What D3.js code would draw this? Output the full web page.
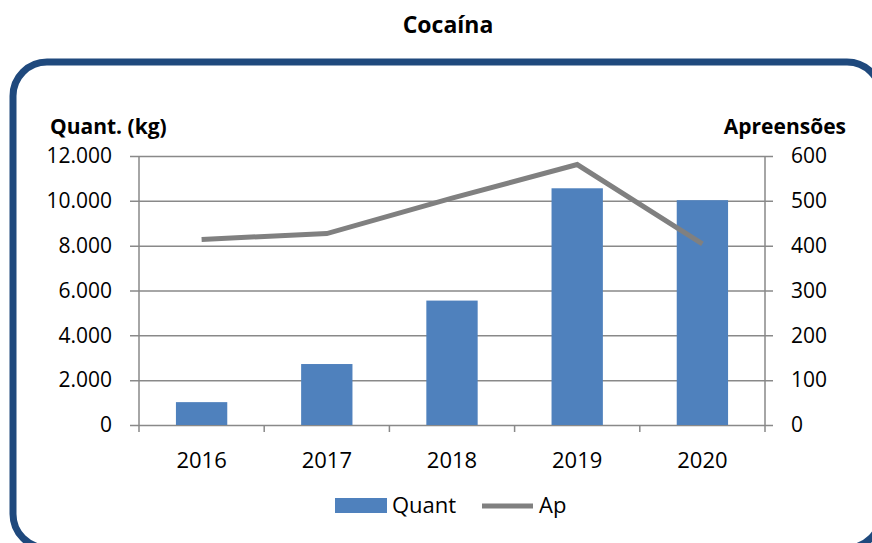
<!DOCTYPE html>
<html lang="pt">
<head>
<meta charset="UTF-8">
<title>Cocaína</title>
<script src="https://d3js.org/d3.v7.min.js"></script>
<style>
  body { margin: 0; background: #fff; }
  svg text { font-family: "Open Sans", sans-serif; fill: #000; }
</style>
</head>
<body>
<svg></svg>
<script>
  // dados
  const anos = ['2016', '2017', '2018', '2019', '2020']
  const quant = [1020, 2720, 5550, 10560, 10030]   // kg
  const apreensoes = [414, 427, 506, 581, 404]
  const ticksQuant = [0, 2000, 4000, 6000, 8000, 10000, 12000]
  const ticksAp = [0, 100, 200, 300, 400, 500, 600]

  const width = 872, height = 543
  const plotL = 139, plotR = 765, plotT = 156, plotB = 425

  const svg = d3.select('svg').attr('width', width).attr('height', height)

  const ptBR = d3.formatLocale({ decimal: ',', thousands: '.', grouping: [3], currency: ['', ''] })
  const fmt = ptBR.format(',')

  const x = d3.scaleBand().domain(anos).range([plotL, plotR]).paddingInner(0.59).paddingOuter(0.295)
  const yL = d3.scaleLinear().domain([0, 12000]).range([plotB, plotT])
  const yR = d3.scaleLinear().domain([0, 600]).range([plotB, plotT])

  // moldura
  svg.append('rect')
    .attr('x', 13).attr('y', 62)
    .attr('width', 868).attr('height', 486)
    .attr('rx', 34).attr('ry', 34)
    .attr('fill', 'none')
    .attr('stroke', '#1F497D')
    .attr('stroke-width', 7)

  svg.append('text')
    .attr('x', 448).attr('y', 33)
    .attr('text-anchor', 'middle')
    .style('font-size', '23px').style('font-weight', 'bold')
    .text('Cocaína')

  // grade + eixo esquerdo
  const gL = svg.append('g')
    .attr('transform', `translate(773,0)`)
    .call(d3.axisLeft(yL).tickValues(ticksQuant).tickFormat(fmt).tickSize(773 - 130).tickPadding(18))
  gL.select('.domain').remove()
  gL.selectAll('line').attr('stroke', '#898989').attr('stroke-width', 1.5)
  gL.selectAll('text').style('font-size', '21px').style('font-family', '"Open Sans", sans-serif')

  const gR = svg.append('g')
    .attr('transform', `translate(${plotR},0)`)
    .call(d3.axisRight(yR).tickValues(ticksAp).tickSize(0).tickPadding(26))
  gR.select('.domain').remove()
  gR.selectAll('text').style('font-size', '21px').style('font-family', '"Open Sans", sans-serif')

  const gB = svg.append('g')
    .attr('transform', `translate(0,${plotB})`)
    .call(d3.axisBottom(x).tickSize(0).tickPadding(27))
  gB.select('.domain').remove()
  gB.selectAll('text').style('font-size', '22px').style('font-family', '"Open Sans", sans-serif')

  // linhas verticais dos eixos e marcas das categorias
  const eixo = svg.append('g').attr('stroke', '#898989').attr('stroke-width', 1.5)
  eixo.append('line').attr('x1', plotL).attr('x2', plotL).attr('y1', plotT).attr('y2', plotB + 7)
  eixo.append('line').attr('x1', plotR).attr('x2', plotR).attr('y1', plotT).attr('y2', plotB + 7)
  eixo.selectAll('.cat')
    .data(d3.range(1, anos.length))
    .join('line')
    .attr('x1', i => plotL + i * x.step()).attr('x2', i => plotL + i * x.step())
    .attr('y1', plotB).attr('y2', plotB + 7)

  // barras
  svg.append('g')
    .selectAll('rect')
    .data(anos)
    .join('rect')
    .attr('x', d => x(d))
    .attr('width', x.bandwidth())
    .attr('y', (d, i) => yL(quant[i]))
    .attr('height', (d, i) => plotB - yL(quant[i]))
    .attr('fill', '#4F81BD')

  // linha de apreensões
  const linha = d3.line()
    .x((d, i) => x(anos[i]) + x.bandwidth() / 2)
    .y(d => yR(d))
  svg.append('path')
    .datum(apreensoes)
    .attr('d', linha)
    .attr('fill', 'none')
    .attr('stroke', '#808080')
    .attr('stroke-width', 5)

  // títulos dos eixos
  svg.append('text').attr('x', 50).attr('y', 134)
    .style('font-size', '21px').style('font-weight', 'bold')
    .text('Quant. (kg)')
  svg.append('text').attr('x', 846).attr('y', 134)
    .attr('text-anchor', 'end')
    .style('font-size', '21px').style('font-weight', 'bold')
    .text('Apreensões')

  // legenda
  const leg = svg.append('g')
  leg.append('rect').attr('x', 335).attr('y', 498).attr('width', 52).attr('height', 15).attr('fill', '#4F81BD')
  leg.append('text').attr('x', 392).attr('y', 513).style('font-size', '22px').text('Quant')
  leg.append('line').attr('x1', 482).attr('x2', 533).attr('y1', 506).attr('y2', 506)
    .attr('stroke', '#808080').attr('stroke-width', 5)
  leg.append('text').attr('x', 539).attr('y', 513).style('font-size', '22px').text('Ap')
</script>
</body>
</html>
